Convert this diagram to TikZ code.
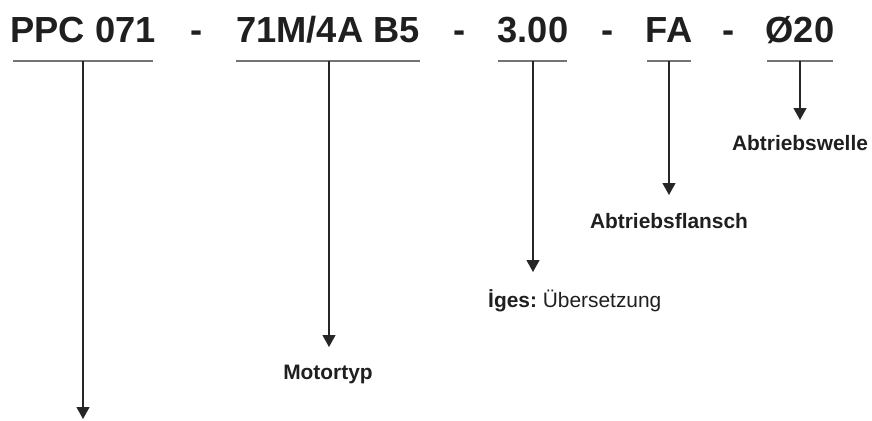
\documentclass[tikz,border=0pt]{standalone}
\usepackage{fontspec}
\setmainfont{Liberation Sans}
\usetikzlibrary{arrows.meta}
\begin{document}
\begin{tikzpicture}[x=1pt,y=-1pt,
  code/.style={font=\fontsize{36.3}{40}\selectfont\bfseries, text=black!88, inner sep=0pt, anchor=base},
  lbl/.style={font=\fontsize{20.9}{22}\selectfont, text=black!88, inner sep=0pt, anchor=base},
  uline/.style={draw=black!55, line width=1.6pt},
  pointer/.style={draw=black!85, line width=1.2pt, -{Triangle[length=12pt,width=13pt]}}]
\useasboundingbox (0,0) rectangle (872,420);
% codes
\node[code] (c1) at (83,43) {PPC 071};
\node[code] (d1) at (197,43) {-};
\node[code] (c2) at (328,43) {71M/4A B5};
\node[code] (d2) at (460,43) {-};
\node[code] (c3) at (533,43) {3.00};
\node[code] (d3) at (608,43) {-};
\node[code] (c4) at (669,43) {FA};
\node[code] (d4) at (729,43) {-};
\node[code] (c5) at (800,43) {Ø20};
% underlines
\coordinate (u1a) at (13,61); \coordinate (u1b) at (153,61);
\coordinate (u2a) at (236,61); \coordinate (u2b) at (420,61);
\coordinate (u3a) at (498,61); \coordinate (u3b) at (567,61);
\coordinate (u4a) at (647,61); \coordinate (u4b) at (691,61);
\coordinate (u5a) at (767,61); \coordinate (u5b) at (833,61);
\draw[uline] (u1a) -- (u1b);
\draw[uline] (u2a) -- (u2b);
\draw[uline] (u3a) -- (u3b);
\draw[uline] (u4a) -- (u4b);
\draw[uline] (u5a) -- (u5b);
% ticks
\coordinate (t1) at (83,61); \coordinate (e1) at (83,419);
\coordinate (t2) at (329,61); \coordinate (e2) at (329,347);
\coordinate (t3) at (533,61); \coordinate (e3) at (533,272);
\coordinate (t4) at (669,61); \coordinate (e4) at (669,195);
\coordinate (t5) at (800,61); \coordinate (e5) at (800,120);
\draw[pointer] (t1) -- (e1);
\draw[pointer] (t2) -- (e2);
\draw[pointer] (t3) -- (e3);
\draw[pointer] (t4) -- (e4);
\draw[pointer] (t5) -- (e5);
% labels
\node[lbl] (l2) at (328,379) {\bfseries Motortyp};
\node[lbl, anchor=base west] (l3) at (488,307) {\textbf{İges:}\hspace{0.28em}Übersetzung};
\node[lbl] (l4) at (669,228) {\bfseries Abtriebsflansch};
\node[lbl] (l5) at (800,150) {\bfseries Abtriebswelle};
\end{tikzpicture}
\end{document}
